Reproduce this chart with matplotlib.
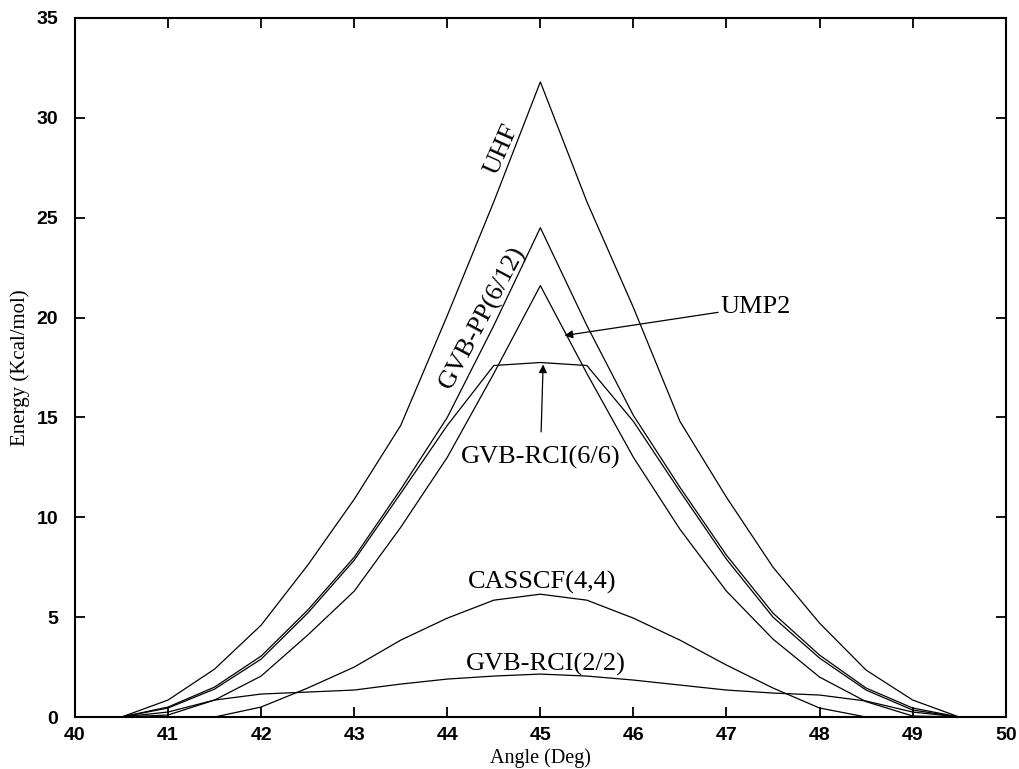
import matplotlib
matplotlib.use("Agg")
import matplotlib.pyplot as plt

# angle grid (deg) and energies (kcal/mol)
angle = [40.5, 41.0, 41.5, 42.0, 42.5, 43.0, 43.5, 44.0, 44.5, 45.0,
         45.5, 46.0, 46.5, 47.0, 47.5, 48.0, 48.5, 49.0, 49.5]

uhf = [0, 0.85, 2.4, 4.6, 7.6, 10.9, 14.6, 20.1, 25.8, 31.8,
       25.8, 20.5, 14.8, 11.0, 7.5, 4.7, 2.35, 0.85, 0]
gvb_pp = [0, 0.5, 1.5, 3.05, 5.35, 8.0, 11.4, 15.0, 19.6, 24.5,
          19.6, 15.1, 11.5, 8.1, 5.2, 3.1, 1.45, 0.45, 0]
gvb_rci66 = [0, 0.45, 1.4, 2.9, 5.2, 7.85, 11.2, 14.6, 17.6, 17.75,
             17.6, 14.8, 11.3, 7.9, 5.0, 2.95, 1.35, 0.35, 0]
ump2 = [0, 0.1, 0.85, 2.05, 4.1, 6.3, 9.5, 13.0, 17.2, 21.6,
        17.2, 13.0, 9.4, 6.3, 3.9, 2.0, 0.77, 0.05, 0]
casscf = [0, 0, 0, 0.5, 1.45, 2.5, 3.85, 4.95, 5.85, 6.15,
          5.85, 4.95, 3.85, 2.6, 1.45, 0.45, 0, 0, 0]
gvb_rci22 = [0, 0.25, 0.85, 1.15, 1.25, 1.35, 1.65, 1.9, 2.05, 2.15,
             2.05, 1.85, 1.6, 1.35, 1.2, 1.1, 0.8, 0.25, 0]

serif = "Liberation Serif"
sans = "Liberation Sans"

fig = plt.figure(figsize=(10.2, 7.69), dpi=100)
ax = fig.add_axes([0.0735, 0.0676, 0.9125, 0.909])

for e in [uhf, gvb_pp, gvb_rci66, ump2, casscf, gvb_rci22]:
    ax.plot(angle, e, color="black", lw=0.9)

ax.set_xlim(40, 50)
ax.set_ylim(0, 35)
ax.set_xticks(range(40, 51))
ax.set_yticks(range(0, 36, 5))
ax.tick_params(direction="in", length=7, width=1.3, top=True, right=True)
ax.tick_params(axis="x", pad=7)
ax.tick_params(axis="y", pad=12)
for lab in ax.get_xticklabels() + ax.get_yticklabels():
    lab.set_fontfamily(sans)
    lab.set_fontsize(14)
    lab.set_fontweight("bold")
for s in ax.spines.values():
    s.set_linewidth(1.5)

ax.set_xlabel("Angle (Deg)", family=serif, fontsize=14.5, labelpad=3)
ax.set_ylabel("Energy (Kcal/mol)", family=serif, fontsize=15, labelpad=5)

# curve labels
ax.text(44.58, 28.4, "UHF", family=serif, fontsize=19, rotation=66,
        ha="center", va="center")
ax.text(44.38, 19.98, "GVB-PP(6/12)", family=serif, fontsize=19, rotation=62,
        ha="center", va="center")
ax.text(45.02, 6.73, "CASSCF(4,4)", family=serif, fontsize=19,
        ha="center", va="center")
ax.text(45.06, 2.65, "GVB-RCI(2/2)", family=serif, fontsize=19,
        ha="center", va="center")

ax.annotate("UMP2", xy=(45.26, 19.1), xytext=(46.94, 20.55),
            family=serif, fontsize=19, ha="left", va="center",
            arrowprops=dict(arrowstyle="-|>", color="black", lw=0.9,
                            shrinkA=0, shrinkB=0, mutation_scale=12))
ax.annotate("GVB-RCI(6/6)", xy=(45.03, 17.65), xytext=(45.0, 13.0),
            family=serif, fontsize=19, ha="center", va="center",
            arrowprops=dict(arrowstyle="-|>", color="black", lw=0.9,
                            shrinkA=8, shrinkB=0, mutation_scale=12))

fig.savefig("out.png", dpi=100)
